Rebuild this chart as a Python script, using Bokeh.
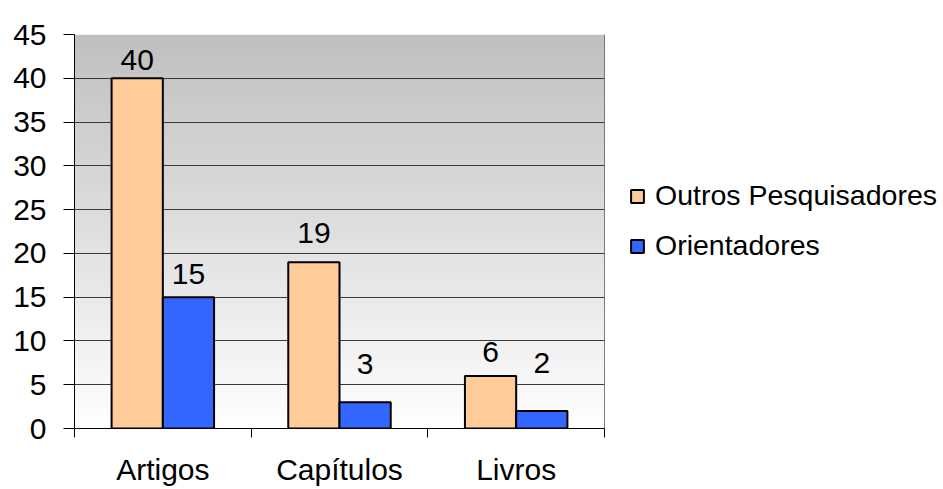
import numpy as np
from bokeh.plotting import figure
from bokeh.models import (ColumnDataSource, FixedTicker, LinearAxis, Legend,
                          LegendItem, Range1d, Grid, Span)
from bokeh.embed import file_html
from bokeh.resources import INLINE
from bokeh.core.properties import value

# ---- data ----
categories = ["Artigos", "Capítulos", "Livros"]
outros = [40, 19, 6]
orientadores = [15, 3, 2]
series_names = ["Outros Pesquisadores", "Orientadores"]
y_ticks = [0, 5, 10, 15, 20, 25, 30, 35, 40, 45]

# ---- style ----
FONT = "Liberation Sans"
C_OUT = "#FFCC99"
C_ORI = "#3366FF"
label_gap_out = [18, 29, 24]     # px offsets of value labels above bar tops
label_gap_ori = [23, 38, 48]
BAR_W = 0.29
OFF = 0.145

n = len(categories)
idx = np.arange(n)

p = figure(frame_width=530, frame_height=394,
           min_border_left=74, min_border_right=339,
           min_border_top=34, min_border_bottom=61,
           x_range=Range1d(0, n), y_range=Range1d(0, y_ticks[-1]),
           x_axis_location=None, y_axis_location=None,
           output_backend="svg", toolbar_location=None)
p.center = [r for r in p.center if not isinstance(r, Grid)]
p.outline_line_color = None
p.background_fill_color = "white"
p.border_fill_color = "white"

# gradient background (grey at top to white at bottom)
N = 256
img = np.zeros((N, 1), dtype=np.uint32)
view = img.view(dtype=np.uint8).reshape((N, 1, 4))
t = np.linspace(0, 1, N)
g = (255 - 63 * t).astype(np.uint8)
view[:, 0, 0] = g
view[:, 0, 1] = g
view[:, 0, 2] = g
view[:, 0, 3] = 255
p.image_rgba(image=[img], x=0, y=0, dw=n, dh=y_ticks[-1], level="image")

grid = Grid(dimension=1, ticker=FixedTicker(ticks=y_ticks[1:]),
            grid_line_color="#3a3a3a", grid_line_width=1)
p.add_layout(grid)
p.add_layout(Span(location=n, dimension="height", line_color="black", line_width=1))

src_o = ColumnDataSource(dict(x=idx + 0.5 - OFF, top=outros,
                              lbl=[str(v) for v in outros],
                              yoff=[-g_ for g_ in label_gap_out]))
src_b = ColumnDataSource(dict(x=idx + 0.5 + OFF, top=orientadores,
                              lbl=[str(v) for v in orientadores],
                              yoff=[-g_ for g_ in label_gap_ori]))

r1 = p.vbar(x="x", top="top", bottom=0, width=BAR_W, source=src_o,
            fill_color=C_OUT, line_color="black", line_width=2)
r2 = p.vbar(x="x", top="top", bottom=0, width=BAR_W, source=src_b,
            fill_color=C_ORI, line_color="black", line_width=2)

for src in (src_o, src_b):
    p.text(x="x", y="top", text="lbl", y_offset="yoff", source=src,
           text_align="center", text_baseline="alphabetic",
           text_font=value(FONT), text_font_size="30px", text_color="black")

# y axis
yax = LinearAxis(ticker=FixedTicker(ticks=y_ticks))
yax.major_tick_out = 11
yax.major_tick_in = 0
yax.minor_tick_out = 0
yax.minor_tick_in = 0
yax.major_label_standoff = 17
yax.major_label_text_font = FONT
yax.major_label_text_font_size = "30px"
yax.major_label_text_color = "black"
yax.axis_line_color = "black"
yax.major_tick_line_color = "black"
p.add_layout(yax, "left")

# x axis: category labels at centres, boundary ticks as minor ticks
cax = LinearAxis(ticker=FixedTicker(ticks=[i + 0.5 for i in range(n)],
                                    minor_ticks=list(range(n + 1))))
cax.major_label_overrides = {i + 0.5: c for i, c in enumerate(categories)}
cax.major_tick_out = 0
cax.major_tick_in = 0
cax.major_tick_line_color = None
cax.minor_tick_out = 9
cax.minor_tick_in = 0
cax.minor_tick_line_color = "black"
cax.axis_line_color = "black"
cax.major_label_standoff = 15
cax.major_label_text_font = FONT
cax.major_label_text_font_size = "30px"
cax.major_label_text_color = "black"
p.add_layout(cax, "below")

legend = Legend(items=[LegendItem(label=series_names[0], renderers=[r1]),
                       LegendItem(label=series_names[1], renderers=[r2])],
                location=(25, 166), orientation="vertical",
                glyph_width=16, glyph_height=16, label_standoff=10,
                label_text_font=FONT, label_text_font_size="28.5px",
                label_text_color="black",
                label_height=30, spacing=17, padding=0, margin=0,
                border_line_color=None, background_fill_alpha=0)
p.add_layout(legend, "right")

open("out.html", "w").write(file_html(p, INLINE))
